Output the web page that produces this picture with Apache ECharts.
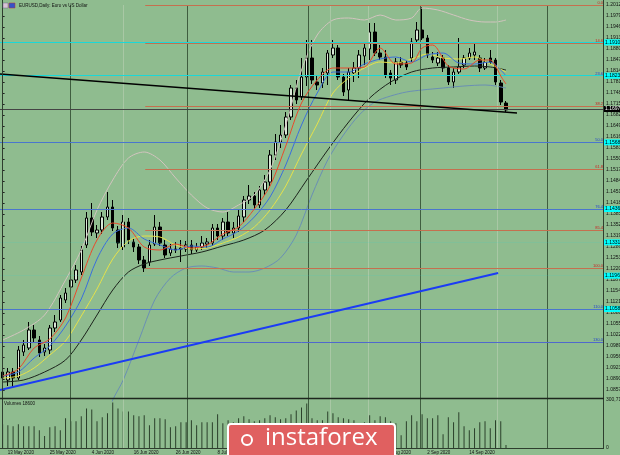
<!DOCTYPE html>
<html>
<head>
<meta charset="utf-8">
<title>EURUSD Daily</title>
<script src="https://cdn.jsdelivr.net/npm/echarts@6/dist/echarts.min.js"></script>
<style>
html,body{margin:0;padding:0;background:#8fbc8f;overflow:hidden;}
#chart{width:620px;height:455px;}
</style>
</head>
<body>
<div id="chart"></div>
<script>
// ---------------- data ----------------
const dates = [
'12 May 2020','13 May 2020','14 May 2020','15 May 2020','18 May 2020','19 May 2020','20 May 2020','21 May 2020','22 May 2020','25 May 2020','26 May 2020','27 May 2020','28 May 2020','29 May 2020',
'1 Jun 2020','2 Jun 2020','3 Jun 2020','4 Jun 2020','5 Jun 2020','8 Jun 2020','9 Jun 2020','10 Jun 2020','11 Jun 2020','12 Jun 2020','15 Jun 2020','16 Jun 2020','17 Jun 2020','18 Jun 2020','19 Jun 2020','22 Jun 2020','23 Jun 2020','24 Jun 2020','25 Jun 2020','26 Jun 2020','29 Jun 2020','30 Jun 2020',
'1 Jul 2020','2 Jul 2020','3 Jul 2020','6 Jul 2020','7 Jul 2020','8 Jul 2020','9 Jul 2020','10 Jul 2020','13 Jul 2020','14 Jul 2020','15 Jul 2020','16 Jul 2020','17 Jul 2020','20 Jul 2020','21 Jul 2020','22 Jul 2020','23 Jul 2020','24 Jul 2020','27 Jul 2020','28 Jul 2020','29 Jul 2020','30 Jul 2020','31 Jul 2020',
'3 Aug 2020','4 Aug 2020','5 Aug 2020','6 Aug 2020','7 Aug 2020','10 Aug 2020','11 Aug 2020','12 Aug 2020','13 Aug 2020','14 Aug 2020','17 Aug 2020','18 Aug 2020','19 Aug 2020','20 Aug 2020','21 Aug 2020','24 Aug 2020','25 Aug 2020','26 Aug 2020','27 Aug 2020','28 Aug 2020','31 Aug 2020',
'1 Sep 2020','2 Sep 2020','3 Sep 2020','4 Sep 2020','7 Sep 2020','8 Sep 2020','9 Sep 2020','10 Sep 2020','11 Sep 2020','14 Sep 2020','15 Sep 2020','16 Sep 2020','17 Sep 2020','18 Sep 2020','21 Sep 2020','22 Sep 2020','23 Sep 2020'];

const openP = [1.0911,1.0887,1.0911,1.0893,1.0971,1.0983,1.1037,1.1007,1.0971,1.0977,
1.1043,1.1067,1.1127,1.1166,1.1187,1.1211,1.1292,1.1373,1.1328,1.1337,
1.1376,1.1406,1.1337,1.1286,1.1361,1.1301,1.1286,1.1247,1.1241,1.1295,
1.1346,1.1292,1.1268,1.1280,1.1280,1.1280,1.1292,1.1277,1.1286,1.1295,
1.1298,1.1343,1.1319,1.1361,1.1328,1.1343,1.1376,1.1427,1.1439,1.1412,
1.1457,1.1481,1.1562,1.1601,1.1622,1.1676,1.1763,1.1736,1.1796,1.1853,
1.1781,1.1778,1.1808,1.1862,1.1883,1.1796,1.1757,1.1808,1.1823,1.1859,
1.1880,1.1931,1.1868,1.1856,1.1808,1.1787,1.1841,1.1838,1.1853,1.1907,
1.1937,1.1913,1.1856,1.1838,1.1853,1.1823,1.1781,1.1811,1.1832,1.1853,
1.1862,1.1853,1.1823,1.1853,1.1847,1.1778,1.1718];

const closeP = [1.0893,1.0911,1.0893,1.0977,1.0992,1.1037,1.1013,1.0968,1.0983,1.1043,
1.1061,1.1133,1.1148,1.1187,1.1217,1.1277,1.1373,1.1331,1.1337,1.1376,
1.1406,1.1343,1.1298,1.1361,1.1307,1.1286,1.1247,1.1223,1.1292,1.1346,
1.1298,1.1262,1.1280,1.1277,1.1283,1.1292,1.1277,1.1286,1.1298,1.1301,
1.1343,1.1319,1.1361,1.1328,1.1343,1.1379,1.1427,1.1439,1.1412,1.1457,
1.1481,1.1562,1.1601,1.1622,1.1676,1.1763,1.1727,1.1796,1.1853,1.1787,
1.1772,1.1811,1.1868,1.1883,1.1796,1.1751,1.1811,1.1823,1.1862,1.1883,
1.1931,1.1868,1.1856,1.1802,1.1793,1.1841,1.1832,1.1826,1.1901,1.1937,
1.1913,1.1862,1.1847,1.1853,1.1823,1.1781,1.1811,1.1826,1.1853,1.1868,
1.1871,1.1823,1.1841,1.1841,1.1781,1.1721,1.1697];

const lowP = [1.0872,1.0869,1.0863,1.0887,1.0959,1.0977,1.1001,1.0956,1.0959,1.0965,
1.1031,1.1061,1.1118,1.1151,1.1178,1.1202,1.1283,1.1319,1.1313,1.1325,
1.1367,1.1334,1.1283,1.1277,1.1295,1.1271,1.1235,1.1211,1.1229,1.1289,
1.1289,1.1253,1.1259,1.1268,1.1241,1.1271,1.1265,1.1271,1.1277,1.1283,
1.1289,1.1307,1.1307,1.1319,1.1313,1.1331,1.1361,1.1415,1.1397,1.1403,
1.1442,1.1469,1.1547,1.1583,1.1613,1.1667,1.1715,1.1727,1.1769,1.1775,
1.1757,1.1763,1.1772,1.1853,1.1787,1.1739,1.1727,1.1781,1.1793,1.1832,
1.1847,1.1859,1.1847,1.1793,1.1772,1.1775,1.1823,1.1817,1.1841,1.1898,
1.1907,1.1853,1.1838,1.1829,1.1811,1.1772,1.1763,1.1805,1.1823,1.1847,
1.1847,1.1811,1.1817,1.1835,1.1772,1.1712,1.1691];

const highP = [1.0929,1.0923,1.0923,1.0989,1.1007,1.1061,1.1052,1.1019,1.0995,1.1052,
1.1082,1.1142,1.1163,1.1202,1.1232,1.1289,1.1391,1.1418,1.1352,1.1391,
1.1451,1.1427,1.1349,1.1382,1.1373,1.1313,1.1295,1.1259,1.1307,1.1382,
1.1361,1.1307,1.1295,1.1301,1.1307,1.1304,1.1307,1.1298,1.1319,1.1313,
1.1355,1.1355,1.1373,1.1391,1.1361,1.1397,1.1439,1.1472,1.1451,1.1469,
1.1502,1.1577,1.1625,1.1652,1.1691,1.1772,1.1787,1.1853,1.1907,1.1907,
1.1802,1.1823,1.1877,1.1907,1.1892,1.1805,1.1823,1.1841,1.1877,1.1901,
1.1958,1.1958,1.1892,1.1877,1.1817,1.1853,1.1856,1.1847,1.1913,1.1961,
1.2006,1.1922,1.1871,1.1871,1.1862,1.1832,1.1823,1.1913,1.1862,1.1883,
1.1898,1.1862,1.1853,1.1877,1.1853,1.1787,1.1724];

const volume = [148800,142600,136400,148800,136400,136400,136400,111600,74400,130200,
136400,111600,186000,167400,167400,198400,248000,241800,167400,192200,
217000,285200,248000,229400,229400,204600,198400,204600,142600,186000,
186000,179800,130200,136400,161200,161200,173600,142600,161200,161200,
161200,210800,155000,173600,161200,186000,198400,179800,167400,173600,
186000,204600,192200,179800,186000,210800,235600,254200,279000,186000,
173600,173600,229400,217000,192200,186000,179800,173600,148800,161200,
204600,173600,198400,192200,167400,155000,80600,167400,204600,167400,
210800,186000,186000,204600,86800,192200,161200,223200,136400,111600,
124000,161200,167400,124000,173600,167400,18600];

// indicator lines, read at sample bars: [bar index, price]
const maRed = [[0,1.0899],[3,1.0920],[6,1.0983],[9,1.1010],[12,1.1073],[15,1.1193],[18,1.1307],[21,1.1358],[24,1.1343],[27,1.1286],[30,1.1277],[33,1.1295],[36,1.1283],[39,1.1292],[42,1.1325],[45,1.1346],[48,1.1400],[51,1.1469],[54,1.1589],[57,1.1718],[60,1.1787],[63,1.1823],[66,1.1823],[69,1.1826],[72,1.1883],[75,1.1835],[78,1.1838],[80,1.1883],[82,1.1892],[85,1.1829],[88,1.1820],[91,1.1847],[93,1.1847],[94,1.1829],[95,1.1799],[96,1.1775]];
const maBlue = [[0,1.0899],[3,1.0911],[6,1.0953],[9,1.0989],[12,1.1049],[15,1.1130],[18,1.1250],[21,1.1325],[24,1.1343],[27,1.1310],[30,1.1292],[33,1.1277],[36,1.1289],[39,1.1286],[42,1.1310],[45,1.1334],[48,1.1376],[51,1.1436],[54,1.1532],[57,1.1652],[60,1.1748],[63,1.1811],[66,1.1811],[69,1.1835],[72,1.1850],[75,1.1856],[78,1.1841],[81,1.1862],[84,1.1868],[87,1.1838],[90,1.1835],[93,1.1841],[95,1.1817],[96,1.1799]];
const maYellow = [[0,1.0893],[3,1.0899],[6,1.0923],[9,1.0962],[12,1.1004],[15,1.1079],[18,1.1160],[21,1.1250],[24,1.1304],[27,1.1319],[30,1.1316],[33,1.1292],[36,1.1280],[39,1.1283],[42,1.1298],[45,1.1316],[48,1.1346],[51,1.1397],[54,1.1469],[57,1.1565],[60,1.1655],[63,1.1748],[66,1.1793],[69,1.1823],[72,1.1841],[75,1.1838],[78,1.1850],[81,1.1865],[84,1.1853],[87,1.1850],[90,1.1856],[93,1.1835],[96,1.1811]];
const maBlack = [[0,1.0881],[4,1.0887],[8,1.0911],[12,1.0947],[15,1.1007],[18,1.1082],[21,1.1157],[24,1.1211],[27,1.1235],[30,1.1247],[34,1.1259],[38,1.1271],[42,1.1289],[46,1.1307],[50,1.1337],[54,1.1397],[58,1.1487],[62,1.1577],[66,1.1661],[70,1.1733],[74,1.1781],[78,1.1811],[82,1.1823],[86,1.1826],[90,1.1829],[93,1.1826],[96,1.1817]];
const bandUpper = [[0,1.1007],[4,1.1037],[8,1.1082],[12,1.1187],[15,1.1277],[18,1.1397],[21,1.1487],[24,1.1553],[27,1.1571],[30,1.1547],[33,1.1493],[36,1.1442],[39,1.1403],[42,1.1391],[45,1.1412],[48,1.1442],[51,1.1517],[54,1.1652],[57,1.1817],[60,1.1922],[63,1.1967],[66,1.1973],[69,1.1967],[72,1.1982],[75,1.1967],[78,1.1973],[80,1.2003],[83,1.1997],[86,1.1982],[89,1.1967],[92,1.1961],[94,1.1961],[96,1.1967]];
const bandLower = [[18,1.0707],[21,1.0827],[23,1.0887],[26,1.1007],[29,1.1127],[32,1.1193],[35,1.1223],[38,1.1229],[41,1.1223],[44,1.1211],[47,1.1211],[50,1.1223],[53,1.1253],[56,1.1322],[59,1.1442],[62,1.1547],[65,1.1622],[68,1.1682],[71,1.1721],[74,1.1739],[77,1.1751],[80,1.1757],[84,1.1763],[88,1.1769],[92,1.1772],[94,1.1769],[96,1.1763]];

// drawn objects
const blackTrend = [[-0.5,1.1805],[98.1,1.1688]];
const blueTrend = [[-0.5,1.0857],[94.5,1.1208]];
const fibStart = 27.2;
const fibRed = [1.2012,1.1898,1.1709,1.1520,1.1337,1.1223];
const fibRedLabels = ['0.0','14.6','38.2','61.8','85.4','100.0'];
const fibBlue = [1.1829,1.1619,1.1409,1.1148,1.0983];
const fibBlueLabels = ['23.6','50.0','76.4','110.0','130.0'];
const cyanLines = [1.1910,1.1823];
const cyanMarks = [1.1568,1.1436,1.1331,1.1196,1.1058];
const sepDark = [12.9,35.2,58.2,79.6,103.8];
const sepLight = [23.0,62.4,69.7,94.3];

// axis ticks
const priceMin = 1.0824, priceMax = 1.2012, priceStep = 0.0033;
const volMax = 300711;

// ---------------- chart ----------------
const FONT = '"Liberation Sans","DejaVu Sans",sans-serif';
const SLOTS = 115;
const cats = dates.concat(new Array(SLOTS - dates.length).fill(''));
const candles = dates.map((d, i) => [openP[i], closeP[i], lowP[i], highP[i]]);
const lastClose = closeP[closeP.length - 1];

function lineS(data, color, width, z, smooth) {
  return { type: 'line', xAxisIndex: 1, yAxisIndex: 0, data: data,
    smooth: smooth === undefined ? 0.3 : smooth, symbol: 'none', silent: true, z: z,
    lineStyle: { color: color, width: width } };
}
function boxLabel(text, bg, fg) {
  return { show: true, position: 'end', formatter: text, backgroundColor: bg, color: fg,
    fontSize: 5, padding: [1, 1, 0, 1], distance: 1, fontFamily: FONT };
}

const levelItems = [];
fibRed.forEach((v, i) => levelItems.push([
  { coord: [fibStart, v], lineStyle: { color: '#c4704f', width: 1, type: 'solid' },
    label: { show: true, position: 'insideEndTop', formatter: fibRedLabels[i], color: '#cc1f1f',
      fontSize: 4, distance: 0, fontFamily: FONT } },
  { coord: [SLOTS - 0.5, v] }
]));
fibBlue.forEach((v, i) => levelItems.push({ yAxis: v,
  lineStyle: { color: '#5068cc', width: 1, type: 'solid' },
  label: { show: true, position: 'insideEndTop', formatter: fibBlueLabels[i], color: '#1f3fcf',
    fontSize: 4, distance: 0, fontFamily: FONT } }));
cyanLines.forEach(v => levelItems.push({ yAxis: v,
  lineStyle: { color: '#1ad8d8', width: 1, type: 'solid' },
  label: boxLabel(v.toFixed(4), '#00ffff', '#000') }));
cyanMarks.forEach(v => levelItems.push({ yAxis: v,
  lineStyle: { color: 'rgba(40,220,220,0.13)', width: 1, type: 'solid' },
  label: boxLabel(v.toFixed(4), '#00ffff', '#000') }));
levelItems.push({ yAxis: lastClose,
  lineStyle: { color: '#444444', width: 1, type: 'solid' },
  label: boxLabel(lastClose.toFixed(4), '#000', '#fff') });

const sepItems = sepDark.map(v => ({ xAxis: v, lineStyle: { color: '#3f5d3f', width: 1, type: 'solid' } }))
  .concat(sepLight.map(v => ({ xAxis: v, lineStyle: { color: '#a9c8a5', width: 1, type: 'solid' } })));

const chart = echarts.init(document.getElementById('chart'), null, { renderer: 'canvas' });
chart.setOption({
  animation: false,
  backgroundColor: '#8fbc8f',
  textStyle: { fontFamily: FONT },
  grid: [
    { left: 0, right: 17, top: 5, height: 396, outerBoundsMode: 'none', containLabel: false },
    { left: 0, right: 17, top: 400, height: 48, outerBoundsMode: 'none', containLabel: false }
  ],
  xAxis: [
    { type: 'category', gridIndex: 0, data: cats, show: false },
    { type: 'value', gridIndex: 0, min: -0.5, max: SLOTS - 0.5, show: false },
    { type: 'category', gridIndex: 1, data: cats,
      axisLine: { show: false }, axisTick: { show: false }, splitLine: { show: false },
      axisLabel: { interval: (i) => i < dates.length && (i - 1) % 8 === 0, fontSize: 4.5, color: '#111',
        align: 'left', margin: 2, fontFamily: FONT } },
    { type: 'value', gridIndex: 1, min: -0.5, max: SLOTS - 0.5, show: false }
  ],
  yAxis: [
    { type: 'value', gridIndex: 0, position: 'right', min: priceMin, max: priceMax, interval: priceStep,
      axisLine: { show: false }, splitLine: { show: false },
      axisTick: { show: true, length: 2, lineStyle: { color: '#222' } },
      axisLabel: { fontSize: 5, color: '#111', margin: 3, showMinLabel: false, fontFamily: FONT,
        formatter: v => v.toFixed(4) } },
    { type: 'value', gridIndex: 1, position: 'right', min: 0, max: volMax, interval: volMax,
      axisLine: { show: false }, splitLine: { show: false }, axisTick: { show: false },
      axisLabel: { fontSize: 5, color: '#111', margin: 3, fontFamily: FONT } }
  ],
  series: [
    { type: 'line', xAxisIndex: 1, yAxisIndex: 0, data: [], z: 1, silent: true,
      markLine: { symbol: 'none', silent: true, animation: false, data: sepItems.concat(levelItems),
        label: { show: false } } },
    { type: 'line', xAxisIndex: 3, yAxisIndex: 1, data: [], z: 1, silent: true,
      markLine: { symbol: 'none', silent: true, animation: false, data: sepItems, label: { show: false } } },
    { type: 'candlestick', xAxisIndex: 0, yAxisIndex: 0, data: candles, barWidth: 3, z: 3, silent: true,
      itemStyle: { color: '#d9e8d6', color0: '#000000', borderColor: '#000000', borderColor0: '#000000', borderWidth: 1 } },
    lineS(bandUpper, '#d2c4bf', 1, 4),
    lineS(bandLower, '#6a8fb4', 1, 4),
    lineS(maBlack, '#1c231c', 1, 4),
    lineS(maYellow, '#e6e24a', 1, 4),
    lineS(maBlue, '#3a6fdc', 1, 4),
    lineS(maRed, '#ea4a2a', 1, 5),
    lineS(blackTrend, '#000000', 1.5, 6, false),
    lineS(blueTrend, '#1b3cf5', 2, 6, false),
    { type: 'bar', xAxisIndex: 2, yAxisIndex: 1, data: volume, barWidth: 1, silent: true,
      itemStyle: { color: '#2b402b' } }
  ],
  graphic: [
    { type: 'line', silent: true, z: 50, shape: { x1: 2.5, y1: 0, x2: 2.5, y2: 449 }, style: { stroke: '#2e3e2e', lineWidth: 1 } },
    { type: 'line', silent: true, z: 50, shape: { x1: 603.5, y1: 0, x2: 603.5, y2: 449 }, style: { stroke: '#2e3e2e', lineWidth: 1 } },
    { type: 'line', silent: true, z: 50, shape: { x1: 0, y1: 398.5, x2: 604, y2: 398.5 }, style: { stroke: '#1e261e', lineWidth: 1.5 } },
    { type: 'line', silent: true, z: 50, shape: { x1: 0, y1: 448.5, x2: 604, y2: 448.5 }, style: { stroke: '#2e3e2e', lineWidth: 1 } },
    { type: 'rect', silent: true, z: 50, shape: { x: 3, y: 3, width: 5, height: 5 }, style: { fill: '#d9c3d6', stroke: '#6a6a8a', lineWidth: 0.5 } },
    { type: 'rect', silent: true, z: 50, shape: { x: 9, y: 3, width: 6, height: 5 }, style: { fill: '#3552c8', stroke: '#c03030', lineWidth: 0.5 } },
    { type: 'text', silent: true, z: 50, x: 19, y: 3, style: { text: 'EURUSD,Daily: Euro vs US Dollar', fontSize: 4.5, fontFamily: FONT, fill: '#111' } },
    { type: 'text', silent: true, z: 50, x: 4, y: 401, style: { text: 'Volumes ' + volume[volume.length - 1], fontSize: 4.5, fontFamily: FONT, fill: '#111' } },
    { type: 'group', silent: true, z: 100, children: [
      { type: 'rect', z: 100, shape: { x: 228, y: 424, width: 167, height: 40, r: 3 }, style: { fill: '#e06060', stroke: '#ffffff', lineWidth: 2 } },
      { type: 'circle', z: 101, shape: { cx: 247, cy: 440, r: 5 }, style: { fill: 'none', stroke: '#ffffff', lineWidth: 2 } },
      { type: 'text', z: 101, x: 265, y: 438, style: { text: 'instaforex', fontSize: 24, fontFamily: '"Open Sans",sans-serif', fill: '#ffffff', verticalAlign: 'middle' } }
    ] }
  ]
});
</script>
</body>
</html>
